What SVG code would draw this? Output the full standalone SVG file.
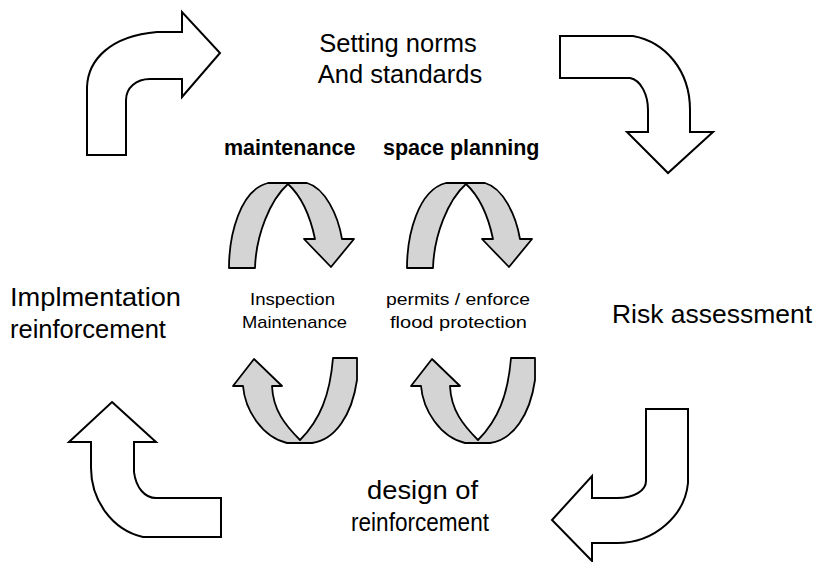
<svg xmlns="http://www.w3.org/2000/svg" width="818" height="562" viewBox="0 0 818 562">
<style>
.big{stroke:#000;stroke-width:2;fill:#fff;stroke-linejoin:miter}
.gray{stroke:#000;stroke-width:1.8;fill:#d4d4d4;stroke-linejoin:round}
text{font-family:"Liberation Sans",Arial,sans-serif;fill:#000}
.t1{font-size:25.5px}
.t2{font-size:21.5px;font-weight:bold}
.t3{font-size:17px}
</style>
<rect width="818" height="562" fill="#fff"/>
<g id="connectors">
<path class="big" d="M87,155 L87,87 C88,60 110,36 157,32 L182,32 L182,12 L220,53 L182,97 L182,79 L150,79 C136,79 126,88 126,100 L126,155 Z"/>
<path class="big" d="M560,36 L633,36 C665,42 690,70 690,110 L690,132 L713,132 L668,173 L627,132 L648,132 L648,110 C648,95 641,80 630,78 L560,78 Z"/>
<path class="big" d="M112,402 L156,442 L134,442 L134,472 C136,488 145,498 156,498 L221,498 L221,537 L143,537 C112,530 91,500 91,468 L91,442 L69,442 Z"/>
<path class="big" d="M646,409 L688,409 L688,483 C685,515 655,543 617,543 L592,543 L592,561 L552,520 L592,476 L592,498 L617,498 C635,498 646,490 646,481 Z"/>
</g>
<g id="arch-maintenance-top">
<path class="gray" d="M229,268 C229,235 240,190 268,183 L307,183 C325,188 338,215 342,239 L354,239 L331,267 L304,239 L315,239 C310,215 300,195 288,184 C270,200 256,235 255,268 Z"/>
</g>
<g id="arch-space-top">
<path class="gray" transform="translate(178,0)" d="M229,268 C229,235 240,190 268,183 L307,183 C325,188 338,215 342,239 L354,239 L331,267 L304,239 L315,239 C310,215 300,195 288,184 C270,200 256,235 255,268 Z"/>
</g>
<g id="u-maintenance-bottom">
<path class="gray" d="M254,359 L282,386 L272,386 C273,410 285,425 300,440 C320,420 330,395 333,358 L357,358 L357,380 C352,415 335,440 312,443 L287,443 C262,437 245,410 243,386 L233,386 Z"/>
</g>
<g id="u-space-bottom">
<path class="gray" transform="translate(178,0)" d="M254,359 L282,386 L272,386 C273,410 285,425 300,440 C320,420 330,395 333,358 L357,358 L357,380 C352,415 335,440 312,443 L287,443 C262,437 245,410 243,386 L233,386 Z"/>
</g>
<g id="node-norms">
<text class="t1" x="398" y="52" text-anchor="middle">Setting norms</text>
<text class="t1" x="400" y="83" text-anchor="middle">And standards</text>
</g>
<g id="node-risk">
<text class="t1" x="612" y="323" textLength="200" lengthAdjust="spacingAndGlyphs">Risk assessment</text>
</g>
<g id="node-design">
<text class="t1" x="367" y="499" textLength="111" lengthAdjust="spacingAndGlyphs">design of</text>
<text class="t1" x="351" y="531" textLength="138" lengthAdjust="spacingAndGlyphs">reinforcement</text>
</g>
<g id="node-impl">
<text class="t1" x="10" y="306" textLength="171" lengthAdjust="spacingAndGlyphs">Implmentation</text>
<text class="t1" x="10" y="338">reinforcement</text>
</g>
<g id="node-maintenance">
<text class="t2" x="224" y="155">maintenance</text>
<text class="t3" x="250" y="305" textLength="85" lengthAdjust="spacingAndGlyphs">Inspection</text>
<text class="t3" x="242" y="328" textLength="105" lengthAdjust="spacingAndGlyphs">Maintenance</text>
</g>
<g id="node-space">
<text class="t2" x="383" y="155">space planning</text>
<text class="t3" x="386" y="305" textLength="144" lengthAdjust="spacingAndGlyphs">permits / enforce</text>
<text class="t3" x="390" y="328" textLength="137" lengthAdjust="spacingAndGlyphs">flood protection</text>
</g>
</svg>
